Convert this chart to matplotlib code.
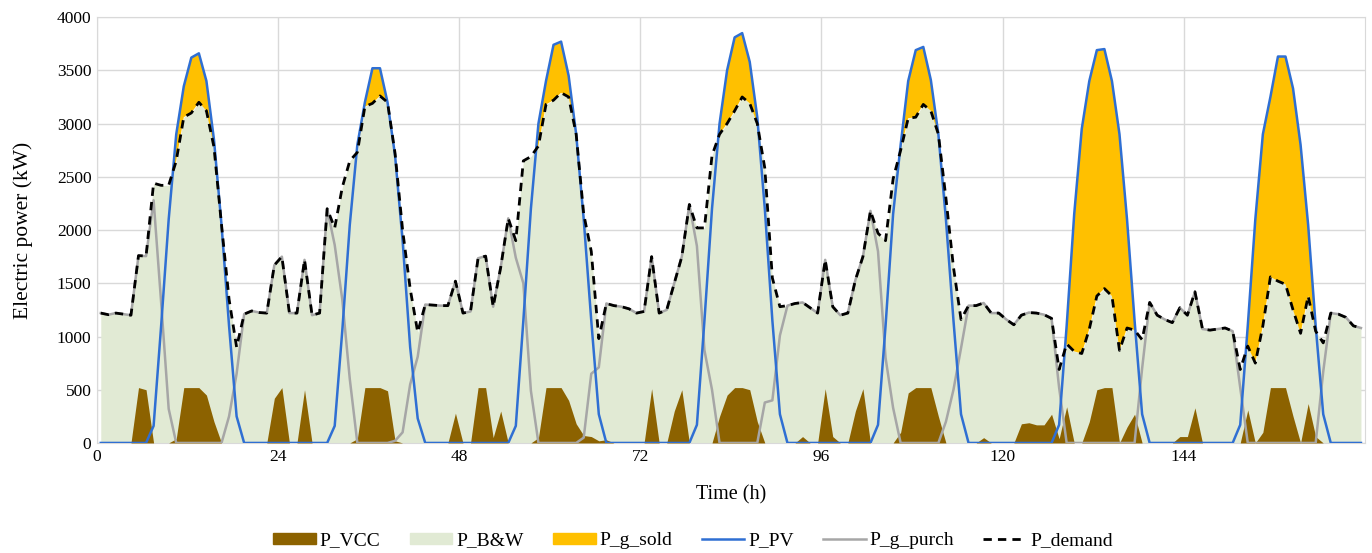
import numpy as np
import matplotlib
matplotlib.use("Agg")
import matplotlib.pyplot as plt
from matplotlib.patches import Patch
from matplotlib.lines import Line2D

# hourly values (kW), hour index 0..167
p_demand = [
    1220, 1205, 1220, 1210, 1200, 1760, 1755, 2440, 2420, 2420, 2650, 3060, 3100, 3200, 3120, 2780, 2050, 1350, 900, 1210,
    1240, 1225, 1220, 1670, 1750, 1220, 1220, 1720, 1200, 1220, 2200, 2020, 2400, 2650, 2730, 3160, 3190, 3260, 3200, 2720,
    2000, 1450, 1040, 1300, 1295, 1290, 1290, 1520, 1220, 1235, 1735, 1755, 1280, 1650, 2110, 1900, 2650, 2690, 2790, 3180,
    3220, 3290, 3250, 2900, 2150, 1800, 980, 1310, 1290, 1280, 1260, 1220, 1235, 1750, 1220, 1250, 1500, 1750, 2240, 2020,
    2020, 2700, 2900, 3000, 3120, 3250, 3190, 3000, 2580, 1550, 1280, 1290, 1310, 1320, 1270, 1220, 1720, 1280, 1200, 1220,
    1530, 1750, 2180, 1970, 1900, 2480, 2750, 3050, 3060, 3180, 3120, 2900, 2300, 1650, 1160, 1290, 1290, 1315, 1220, 1220,
    1160, 1110, 1200, 1225, 1220, 1205, 1170, 690, 930, 860, 840, 1070, 1380, 1450, 1380, 870, 1080, 1060, 970, 1320,
    1200, 1160, 1130, 1270, 1200, 1420, 1070, 1060, 1070, 1080, 1050, 690, 910, 750, 1100, 1560, 1520, 1490, 1250, 1030,
    1380, 1050, 940, 1220, 1210, 1180, 1100, 1080,
]

p_pv = [
    0, 0, 0, 0, 0, 0, 0, 160, 1100, 2100, 2900, 3350, 3620, 3660, 3400, 2850, 2050, 1100, 250, 0,
    0, 0, 0, 0, 0, 0, 0, 0, 0, 0, 0, 160, 1050, 2050, 2800, 3200, 3520, 3520, 3200, 2700,
    1900, 900, 230, 0, 0, 0, 0, 0, 0, 0, 0, 0, 0, 0, 0, 160, 1150, 2200, 3000, 3400,
    3740, 3770, 3450, 2900, 2100, 1150, 270, 0, 0, 0, 0, 0, 0, 0, 0, 0, 0, 0, 0, 170,
    1150, 2200, 3000, 3500, 3810, 3850, 3580, 3060, 2200, 1150, 270, 0, 0, 0, 0, 0, 0, 0, 0, 0,
    0, 0, 0, 170, 1100, 2150, 2800, 3400, 3690, 3720, 3410, 2900, 2100, 1150, 270, 0, 0, 0, 0, 0,
    0, 0, 0, 0, 0, 0, 0, 170, 1100, 2150, 2950, 3400, 3690, 3700, 3400, 2900, 2100, 1150, 270, 0,
    0, 0, 0, 0, 0, 0, 0, 0, 0, 0, 0, 170, 1100, 2100, 2900, 3250, 3630, 3630, 3330, 2800,
    2050, 1100, 270, 0, 0, 0, 0, 0,
]

p_g_purch = [
    1220, 1205, 1220, 1210, 1200, 1760, 1755, 2280, 1320, 320, 0, 0, 0, 0, 0, 0, 0, 250, 650, 1210,
    1240, 1225, 1220, 1670, 1750, 1220, 1220, 1720, 1200, 1220, 2200, 1860, 1350, 600, 0, 0, 0, 0, 0, 20,
    100, 550, 810, 1300, 1295, 1290, 1290, 1520, 1220, 1235, 1735, 1755, 1280, 1650, 2110, 1740, 1500, 490, 0, 0,
    0, 0, 0, 0, 50, 650, 710, 1310, 1290, 1280, 1260, 1220, 1235, 1750, 1220, 1250, 1500, 1750, 2240, 1850,
    870, 500, 0, 0, 0, 0, 0, 0, 380, 400, 1010, 1290, 1310, 1320, 1270, 1220, 1720, 1280, 1200, 1220,
    1530, 1750, 2180, 1800, 800, 330, 0, 0, 0, 0, 0, 0, 200, 500, 890, 1290, 1290, 1315, 1220, 1220,
    1160, 1110, 1200, 1225, 1220, 1205, 1170, 520, 0, 0, 0, 0, 0, 0, 0, 0, 0, 0, 700, 1320,
    1200, 1160, 1130, 1270, 1200, 1420, 1070, 1060, 1070, 1080, 1050, 520, 0, 0, 0, 0, 0, 0, 0, 0,
    0, 0, 670, 1220, 1210, 1180, 1100, 1080,
]

p_vcc = [
    0, 0, 0, 0, 0, 520, 500, 0, 0, 0, 40, 520, 520, 520, 450, 200, 0, 0, 0, 0,
    0, 0, 0, 420, 520, 0, 0, 500, 0, 0, 0, 0, 0, 0, 40, 520, 520, 520, 490, 20,
    0, 0, 0, 0, 0, 0, 0, 280, 0, 0, 520, 520, 50, 300, 0, 0, 0, 0, 50, 520,
    520, 520, 400, 180, 70, 60, 20, 30, 0, 0, 0, 0, 0, 510, 0, 0, 300, 500, 0, 0,
    0, 0, 250, 450, 520, 520, 500, 200, 0, 0, 0, 0, 0, 60, 0, 0, 510, 60, 0, 0,
    300, 510, 0, 0, 0, 0, 100, 470, 520, 520, 520, 250, 0, 0, 0, 0, 0, 50, 0, 0,
    0, 0, 180, 190, 170, 170, 270, 40, 340, 0, 0, 200, 500, 520, 520, 0, 150, 270, 0, 0,
    0, 0, 0, 60, 60, 330, 0, 0, 0, 0, 0, 0, 310, 0, 100, 520, 520, 520, 250, 0,
    370, 60, 0, 0, 0, 0, 0, 0,
]

hours = np.arange(len(p_demand)) + 0.5
demand = np.array(p_demand)
pv = np.array(p_pv)

c_vcc = "#8C6200"
c_bw = "#E1EAD4"
c_sold = "#FFC000"
c_pv = "#2F6FD3"
c_purch = "#A6A6A6"

plt.rcParams["font.family"] = ["Liberation Serif", "DejaVu Serif"]

fig = plt.figure(figsize=(13.72, 5.53), dpi=100)
ax = fig.add_axes([0.0707, 0.199, 0.924, 0.770])

# stacked areas
ax.fill_between(hours, 0, demand, color=c_bw, linewidth=0, zorder=2)
ax.fill_between(hours, 0, p_vcc, color=c_vcc, linewidth=0, zorder=3)
ax.fill_between(hours, demand, pv, where=pv > demand, interpolate=True,
                color=c_sold, linewidth=0, zorder=3)

# lines
ax.plot(hours, p_pv, color=c_pv, lw=1.8, zorder=5)
ax.plot(hours, p_g_purch, color=c_purch, lw=1.8, zorder=4)
ax.plot(hours, p_demand, color="black", lw=2.0, ls=(0, (3, 2.2)), zorder=6)

ax.set_xlim(0, 168)
ax.set_ylim(0, 4000)
ax.set_xticks(range(0, 168, 24))
ax.set_yticks(range(0, 4001, 500))
ax.tick_params(length=0, labelsize=12.5, pad=4)
ax.grid(True, color="#D9D9D9", lw=1)
ax.set_axisbelow(True)
for s in ax.spines.values():
    s.set_color("#D9D9D9")

ax.set_xlabel("Time (h)", fontsize=14.5, labelpad=15)
ax.set_ylabel("Electric power (kW)", fontsize=15.5, labelpad=17)

handles = [
    Patch(color=c_vcc, label="P_VCC"),
    Patch(color=c_bw, label="P_B&W"),
    Patch(color=c_sold, label="P_g_sold"),
    Line2D([], [], color=c_pv, lw=1.8, label="P_PV"),
    Line2D([], [], color=c_purch, lw=1.8, label="P_g_purch"),
    Line2D([], [], color="black", lw=2.0, ls=(0, (3, 2.2)), label="P_demand"),
]
fig.legend(handles=handles, loc="lower center", bbox_to_anchor=(0.505, -0.025), ncol=6,
           frameon=False, fontsize=14, handlelength=2.2, handleheight=0.55,
           columnspacing=1.5, handletextpad=0.2)

fig.savefig("out.png", dpi=100)
